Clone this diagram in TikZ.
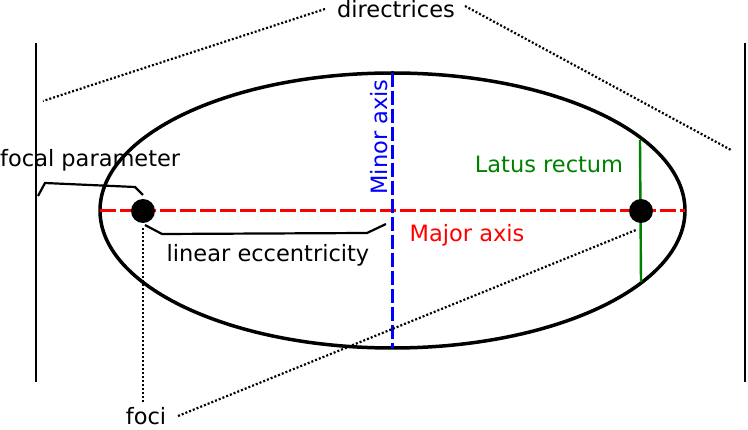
\documentclass[tikz,border=0pt]{standalone}
\usepackage{fontspec}
\setmainfont{DejaVu Sans}
\definecolor{lrgreen}{RGB}{0,128,0}
\begin{document}
\begin{tikzpicture}[x=1pt,y=-1pt,
  lbl/.style={inner sep=0pt,anchor=base,font=\fontsize{22.5}{26}\selectfont},
  directrix/.style={line width=2.4pt,black},
  dotline/.style={line width=2.2pt,dash pattern=on 2pt off 2pt},
  bracket/.style={line width=2.2pt,line join=miter},
  axisdash/.style={line width=3pt,dash pattern=on 16pt off 4pt},
  focus/.style={circle,fill=black,minimum size=24pt,inner sep=0pt}]
\useasboundingbox (0,0) rectangle (748,430);
% ellipse and axes
\draw[line width=3.5pt] (392.5,210.5) ellipse [x radius=292.5, y radius=137.5];
\coordinate (majL) at (100,211);
\coordinate (majR) at (685,211);
\coordinate (minT) at (392,73);
\coordinate (minB) at (392,348);
\draw[axisdash,red] (majL) -- (majR);
\draw[axisdash,blue,dash pattern=on 14pt off 4pt] (minT) -- (minB);
% latus rectum
\coordinate (lrT) at (640,140);
\coordinate (lrB) at (641,282);
\draw[line width=2.4pt,lrgreen] (lrT) -- (lrB);
% foci
\node[focus] (f1) at (143,211) {};
\node[focus] (f2) at (641,211) {};
% directrices
\coordinate (dl1) at (36,43);
\coordinate (dl2) at (36,382);
\coordinate (dr1) at (745,43);
\coordinate (dr2) at (745,382);
\draw[directrix] (dl1) -- (dl2);
\draw[directrix] (dr1) -- (dr2);
% labels
\node[lbl] (dir) at (396,18) {directrices};
\node[lbl,anchor=base west] (fp) at (0,167) {focal parameter};
\node[lbl] (le) at (268,262) {linear eccentricity};
\node[lbl,text=lrgreen] (lr) at (549,173) {Latus rectum};
\node[lbl,text=red] (ma) at (467,242) {Major axis};
\node[lbl,text=blue,rotate=90] (mi) at (387,137) {Minor axis};
\node[lbl] (foci) at (146,425) {foci};
% directrices pointers
\coordinate (dirL) at (325,9);
\coordinate (dirR) at (465,6);
\coordinate (dlp) at (43,101);
\coordinate (drp) at (731,150);
\draw[dotline] (dirL) -- (dlp);
\draw[dotline] (dirR) -- (drp);
% foci pointers
\coordinate (fociU) at (143,402);
\coordinate (f1p) at (143,228);
\coordinate (fociR) at (178,416);
\coordinate (f2p) at (636,230);
\draw[dotline] (fociU) -- (f1p);
\draw[dotline] (fociR) -- (f2p);
% brackets
\draw[bracket] (38,196) -- (45,183) -- (135,187) -- (143,195);
\draw[bracket] (145,225) -- (162,234) -- (367,233) -- (386,224);
\end{tikzpicture}
\end{document}
